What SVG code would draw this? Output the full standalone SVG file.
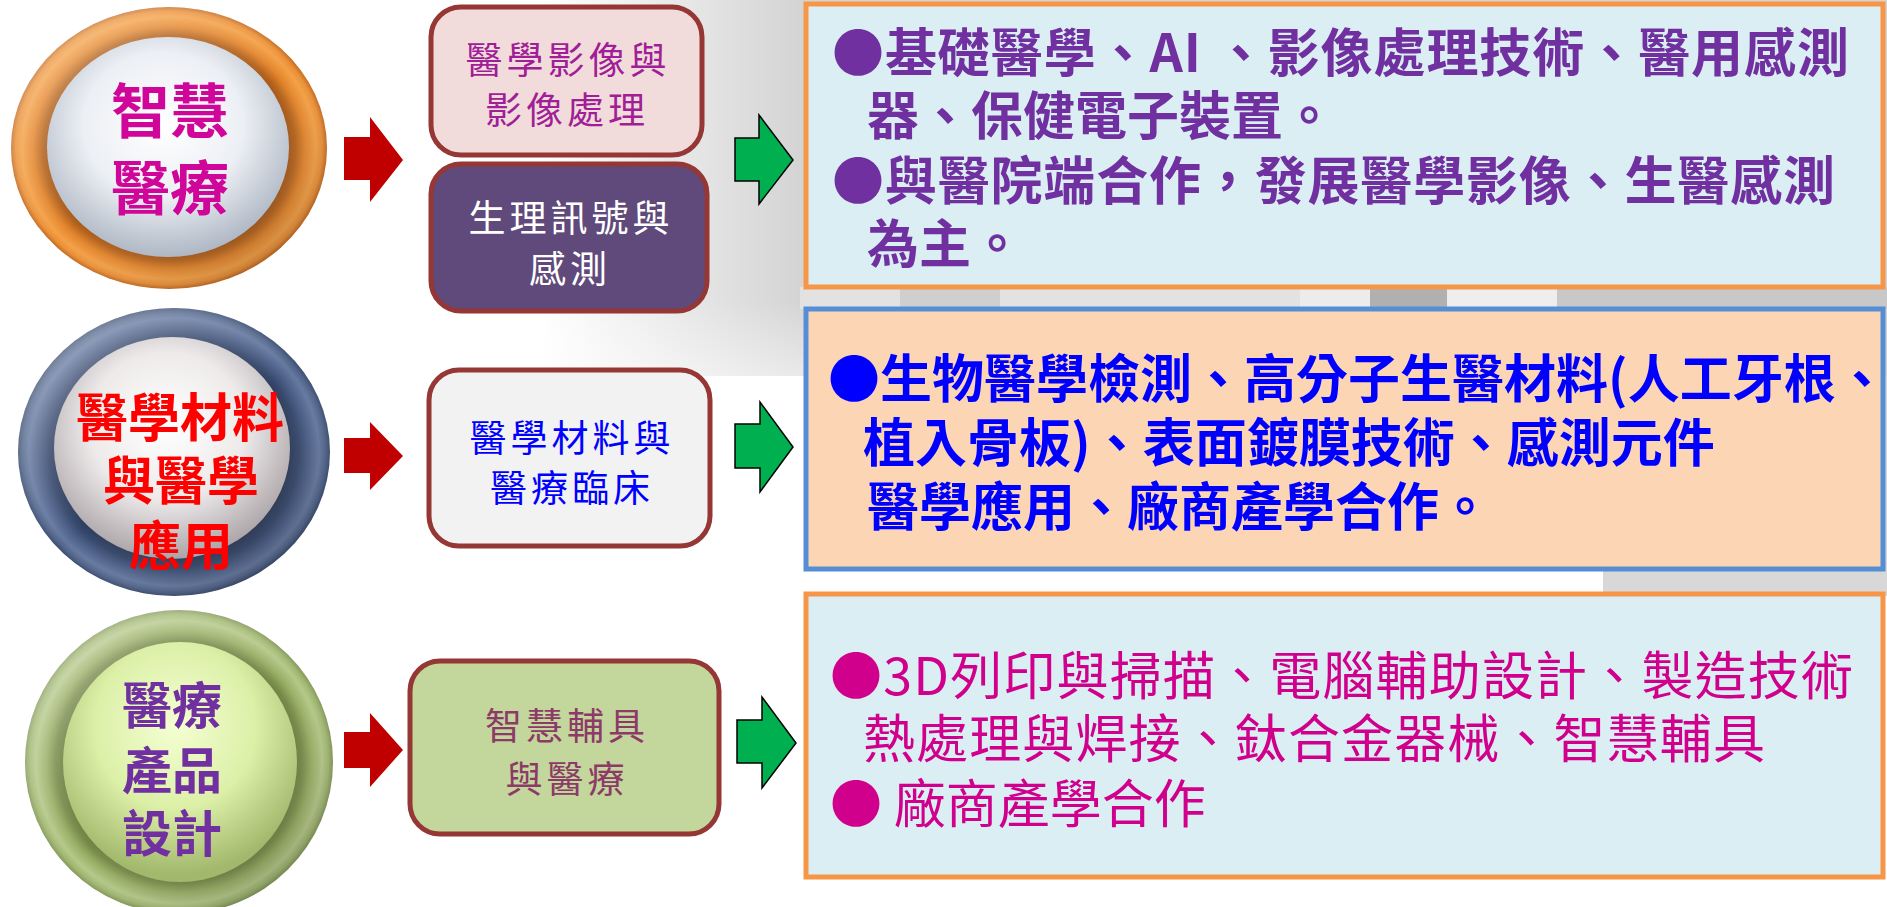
<svg xmlns="http://www.w3.org/2000/svg" width="1887" height="907" viewBox="0 0 1887 907">
<defs>
<style>
.cjk{font-family:"Noto Sans CJK TC","Noto Sans CJK SC",sans-serif}
.kai{font-size:37px;letter-spacing:4px;text-anchor:middle;dominant-baseline:central}
.circ{font-weight:700;text-anchor:middle;dominant-baseline:central}
.desc{font-size:52px;dominant-baseline:central}
.mbox{stroke:#953735;stroke-width:5}
.rbox{stroke-width:5}
.red{fill:#C00000}
.green{fill:#00B050;stroke:#000;stroke-width:1.5;stroke-linejoin:miter}
</style>
<linearGradient id="bgG" x1="540" y1="0" x2="800" y2="0" gradientUnits="userSpaceOnUse">
<stop offset="0" stop-color="#ffffff"/>
<stop offset="0.4" stop-color="#eeeeee"/>
<stop offset="1" stop-color="#d4d4d4"/>
</linearGradient>
<linearGradient id="bgV" x1="0" y1="300" x2="0" y2="376" gradientUnits="userSpaceOnUse">
<stop offset="0" stop-color="#ffffff" stop-opacity="0"/>
<stop offset="1" stop-color="#ffffff" stop-opacity="0.5"/>
</linearGradient>
<radialGradient id="ringO" cx="0.5" cy="0.5" r="0.5">
<stop offset="0" stop-color="#9A5016"/>
<stop offset="0.74" stop-color="#9A5016"/>
<stop offset="0.8" stop-color="#B5631C"/>
<stop offset="0.86" stop-color="#E3852C"/>
<stop offset="0.93" stop-color="#F4A045"/>
<stop offset="0.97" stop-color="#EA8F36"/>
<stop offset="1" stop-color="#C46A20"/>
</radialGradient>
<radialGradient id="ringN" cx="0.5" cy="0.5" r="0.5">
<stop offset="0" stop-color="#2C3A58"/>
<stop offset="0.74" stop-color="#2C3A58"/>
<stop offset="0.8" stop-color="#34466A"/>
<stop offset="0.86" stop-color="#4A5D85"/>
<stop offset="0.93" stop-color="#6478A0"/>
<stop offset="0.97" stop-color="#506489"/>
<stop offset="1" stop-color="#3A4B70"/>
</radialGradient>
<radialGradient id="ringG" cx="0.5" cy="0.5" r="0.5">
<stop offset="0" stop-color="#677A3C"/>
<stop offset="0.74" stop-color="#677A3C"/>
<stop offset="0.8" stop-color="#768A48"/>
<stop offset="0.86" stop-color="#98AE64"/>
<stop offset="0.93" stop-color="#B4C888"/>
<stop offset="0.97" stop-color="#A0B670"/>
<stop offset="1" stop-color="#84985A"/>
</radialGradient>
<linearGradient id="light" x1="0.15" y1="0.1" x2="0.85" y2="0.95">
<stop offset="0" stop-color="#ffffff" stop-opacity="0.3"/>
<stop offset="0.5" stop-color="#ffffff" stop-opacity="0"/>
<stop offset="1" stop-color="#000000" stop-opacity="0.18"/>
</linearGradient>
<radialGradient id="faceO" cx="0.48" cy="0.4" r="0.6">
<stop offset="0" stop-color="#FFFFFF"/>
<stop offset="0.55" stop-color="#ECEFF4"/>
<stop offset="1" stop-color="#AEB7C4"/>
</radialGradient>
<radialGradient id="faceN" cx="0.48" cy="0.4" r="0.6">
<stop offset="0" stop-color="#FFFFFF"/>
<stop offset="0.55" stop-color="#EEEAEA"/>
<stop offset="1" stop-color="#ABA4A8"/>
</radialGradient>
<radialGradient id="faceG" cx="0.48" cy="0.35" r="0.62">
<stop offset="0" stop-color="#F4FFD2"/>
<stop offset="0.55" stop-color="#DCF0A8"/>
<stop offset="1" stop-color="#A2B86C"/>
</radialGradient>
</defs>

<g id="background">
<rect x="0" y="0" width="1887" height="907" fill="#ffffff"/>
<rect x="540" y="0" width="1347" height="376" fill="url(#bgG)"/>
<rect x="540" y="300" width="300" height="76" fill="url(#bgV)"/>
<rect x="1603" y="376" width="284" height="220" fill="#d8d8d8"/>
<rect x="800" y="287" width="1087" height="22" fill="#e2e2e2"/>
<rect x="900" y="287" width="100" height="22" fill="#cfcfcf"/>
<rect x="1300" y="287" width="70" height="22" fill="#ececec"/>
<rect x="1370" y="287" width="77" height="22" fill="#b0b0b0"/>
<rect x="1447" y="287" width="110" height="22" fill="#eeeeee"/>
<rect x="1557" y="287" width="330" height="22" fill="#c8c8c8"/>
</g>

<g id="circle-smart-medical">
<ellipse cx="169" cy="148" rx="158" ry="141" fill="url(#ringO)"/>
<ellipse cx="169" cy="148" rx="158" ry="141" fill="url(#light)"/>
<ellipse cx="168" cy="147" rx="121" ry="110" fill="url(#faceO)"/>
<text class="cjk circ" font-size="59" fill="#D0069A"><tspan x="170" y="107">智慧</tspan><tspan x="170" y="184">醫療</tspan></text>
</g>

<g id="circle-materials">
<ellipse cx="174" cy="452" rx="156" ry="144" fill="url(#ringN)"/>
<ellipse cx="174" cy="452" rx="156" ry="144" fill="url(#light)"/>
<ellipse cx="172" cy="448" rx="118" ry="111" fill="url(#faceN)"/>
<text class="cjk circ" font-size="52" fill="#FF0000"><tspan x="180" y="414">醫學材料</tspan><tspan x="181" y="477">與醫學</tspan><tspan x="181" y="542">應用</tspan></text>
</g>

<g id="circle-product-design">
<ellipse cx="179" cy="762" rx="154" ry="152" fill="url(#ringG)"/>
<ellipse cx="179" cy="762" rx="154" ry="152" fill="url(#light)"/>
<ellipse cx="180" cy="762" rx="117" ry="120" fill="url(#faceG)"/>
<text class="cjk circ" font-size="50" fill="#7030A0"><tspan x="172" y="702">醫療</tspan><tspan x="172" y="767">產品</tspan><tspan x="172" y="830">設計</tspan></text>
</g>

<g id="box-imaging">
<rect class="mbox" x="431" y="7" width="271" height="148" rx="30" fill="#F2DCDB"/>
<text class="cjk kai" fill="#A01E96"><tspan x="568" y="58">醫學影像與</tspan><tspan x="567" y="108">影像處理</tspan></text>
</g>

<g id="box-signals">
<rect class="mbox" x="431" y="164" width="276" height="147" rx="30" fill="#604A7B"/>
<text class="cjk kai" fill="#FFFFFF"><tspan x="571" y="216">生理訊號與</tspan><tspan x="570" y="267">感測</tspan></text>
</g>

<g id="box-materials">
<rect class="mbox" x="429" y="370" width="281" height="176" rx="30" fill="#F2F2F2"/>
<text class="cjk kai" fill="#0000FF"><tspan x="572" y="436">醫學材料與</tspan><tspan x="572" y="486">醫療臨床</tspan></text>
</g>

<g id="box-assistive">
<rect class="mbox" x="410" y="661" width="309" height="173" rx="30" fill="#C3D69B"/>
<text class="cjk kai" fill="#8C3A68"><tspan x="567" y="724">智慧輔具</tspan><tspan x="567" y="777">與醫療</tspan></text>
</g>

<g id="desc-smart-medical">
<rect class="rbox" x="806" y="4" width="1077" height="283" fill="#DBEEF4" stroke="#F79646"/>
<text class="cjk desc" font-weight="700" fill="#7030A0">
<tspan x="832" y="49" textLength="1017" lengthAdjust="spacing">●基礎醫學、AI 、影像處理技術、醫用感測</tspan>
<tspan x="867" y="112">器、保健電子裝置。</tspan>
<tspan x="832" y="177" textLength="1003" lengthAdjust="spacing">●與醫院端合作，發展醫學影像、生醫感測</tspan>
<tspan x="867" y="240">為主。</tspan>
</text>
</g>

<g id="desc-materials">
<rect class="rbox" x="806" y="309" width="1077" height="260" fill="#FCD5B5" stroke="#558ED5"/>
<text class="cjk desc" font-weight="700" fill="#0000FF">
<tspan x="828" y="375">●生物醫學檢測、高分子生醫材料(人工牙根、</tspan>
<tspan x="863" y="439">植入骨板)、表面鍍膜技術、感測元件</tspan>
<tspan x="867" y="503">醫學應用、廠商產學合作。</tspan>
</text>
</g>

<g id="desc-product-design">
<rect class="rbox" x="806" y="594" width="1077" height="283" fill="#DBEEF4" stroke="#F79646"/>
<text class="cjk desc" fill="#D0008C">
<tspan x="830" y="672" textLength="1023" lengthAdjust="spacing">●3D列印與掃描、電腦輔助設計、製造技術</tspan>
<tspan x="863" y="735" textLength="902" lengthAdjust="spacing">熱處理與焊接、鈦合金器械、智慧輔具</tspan>
<tspan x="830" y="800">● 廠商產學合作</tspan>
</text>
</g>

<g id="connectors">
<polygon class="red" points="344,137 370,137 370,117 403,160 370,202 370,180 344,180"/>
<polygon class="red" points="344,438 370,438 370,422 403,456 370,490 370,473 344,473"/>
<polygon class="red" points="344,732 370,732 370,713 403,750 370,787 370,768 344,768"/>
<polygon class="green" points="735,138 759,138 759,115 793,160 759,204 759,181 735,181"/>
<polygon class="green" points="735,424 760,424 760,402 793,447 760,492 760,468 735,468"/>
<polygon class="green" points="737,720 762,720 762,697 796,743 762,788 762,763 737,763"/>
</g>
</svg>
